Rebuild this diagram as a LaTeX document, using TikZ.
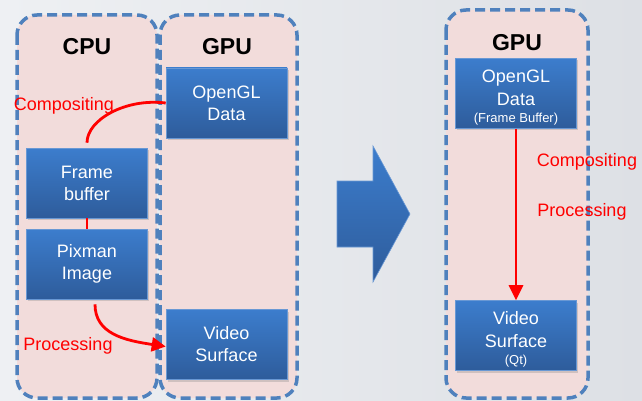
\documentclass[tikz,border=0pt]{standalone}
\usepackage{fontspec}
\setmainfont{Liberation Sans}
\usetikzlibrary{arrows.meta,shadows}
\definecolor{bgl}{RGB}{238,240,243}
\definecolor{bgr}{RGB}{221,224,229}
\definecolor{pinkfill}{RGB}{242,220,219}
\definecolor{dashblue}{RGB}{79,129,189}
\definecolor{boxtop}{RGB}{60,125,205}
\definecolor{boxbot}{RGB}{46,92,155}
\definecolor{boxline}{RGB}{105,152,212}
\tikzset{
  group/.style={draw=dashblue, fill=pinkfill, line width=3.5pt, dash pattern=on 10pt off 5pt, rounded corners=20pt},
  box/.style={rectangle, draw=boxline, line width=0.6pt, top color=boxtop, bottom color=boxbot,
    minimum width=121pt, minimum height=70pt, text=white, align=center,
    font=\fontsize{18}{22}\selectfont,
    drop shadow={opacity=0.3, shadow xshift=1.5pt, shadow yshift=-2pt}},
  title/.style={font=\fontsize{23}{26}\selectfont\bfseries},
  lbl/.style={text=red, font=\fontsize{18}{22}\selectfont},
  redline/.style={draw=red, line width=2.8pt},
}
\newcommand{\smalltxt}[1]{{\fontsize{13}{15}\selectfont #1}}
\begin{document}
\begin{tikzpicture}[x=1pt,y=-1pt]
    \useasboundingbox (0,0) rectangle (642,401);
    \clip (0,0) rectangle (642,401);
    \shade[left color=bgl, right color=bgr] (0,0) rectangle (642,401);
    % left: CPU and GPU
    \draw[group] (17,15) rectangle (157,398);
    \draw[group] (160,15) rectangle (297,398);
    \node[title] (cpu) at (87,47) {CPU};
    \node[title] (gpu) at (227,47) {GPU};
    \node[box] (gl) at (226.5,103) {OpenGL\\Data};
    \node[box] (fb) at (87,183) {Frame\\buffer};
    \node[box] (pix) at (87,264) {Pixman\\Image};
    \node[box] (vs) at (226.5,344.5) {Video\\Surface};
    \draw[redline, shorten <=5pt] (fb.north) .. controls +(0,-28) and +(-40,-5) .. (gl.west);
    \draw[redline] (fb.south) -- (pix.north);
    \draw[redline, shorten <=5pt, -{Triangle[length=14pt,width=14pt]}] ([xshift=8pt]pix.south) .. controls +(0,35) and +(-40,-6) .. ([yshift=-2pt]vs.west);
    \node[lbl] (comp) at (64,106) {Compositing};
    \node[lbl] (proc) at (68,346) {Processing};
    % block arrow
    \shade[top color=boxtop, bottom color=boxbot, draw=boxline, line width=0.6pt]
      (337,181) -- (373,181) -- (373,146) -- (410,214) -- (373,282) -- (373,247) -- (337,247) -- cycle;
    % right: GPU only
    \draw[group] (446,10) rectangle (588,398);
    \node[title] (gpu2) at (517,43) {GPU};
    \node[box, inner ysep=1pt] (gl2) at (516,93.5) {\rule{0pt}{20pt}OpenGL\\[1pt]Data\\[-5pt]\smalltxt{(Frame Buffer)}};
    \node[box, inner ysep=1pt] (vs2) at (516,335.5) {\rule{0pt}{20pt}Video\\[1pt]Surface\\[-5pt]\smalltxt{(Qt)}};
    \draw[redline, -{Triangle[length=15pt,width=14pt]}] (gl2.south) -- (vs2.north);
    \node[lbl] (comp2) at (587,162) {Compositing};
    \node[lbl] (proc2) at (582,212) {Processing};
\end{tikzpicture}
\end{document}
